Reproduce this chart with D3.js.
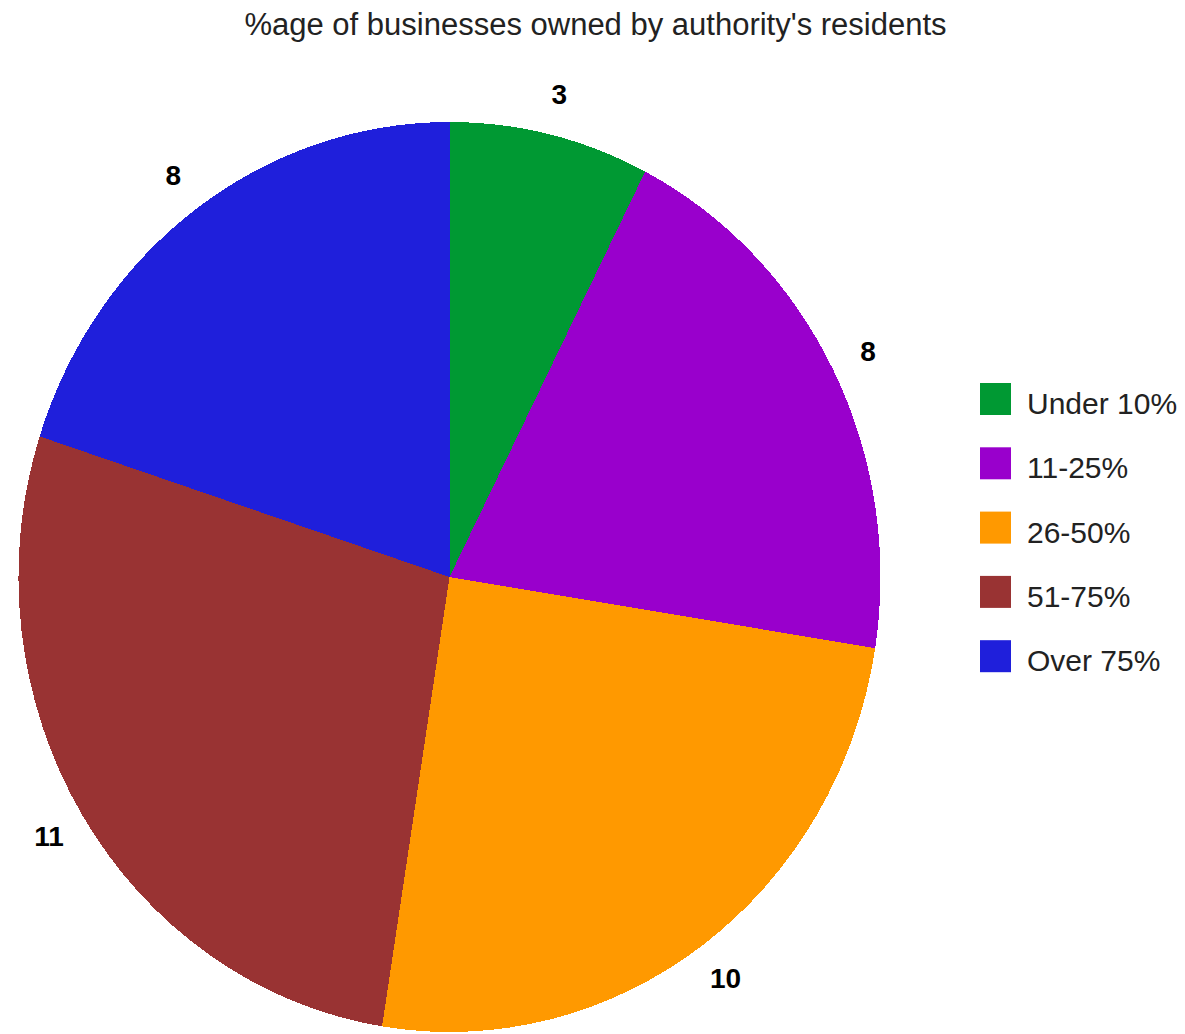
<!DOCTYPE html>
<html>
<head>
<meta charset="utf-8">
<script src="https://cdn.jsdelivr.net/npm/d3@7"></script>
<style>
  html, body { margin: 0; padding: 0; background: #fff; }
  svg { display: block; }
</style>
</head>
<body>
<svg id="chart" width="1185" height="1034"></svg>
<script>
// Ownership bands and number of businesses in each
const categories = ["Under 10%", "11-25%", "26-50%", "51-75%", "Over 75%"];
const values = [3, 8, 10, 11, 8];
const colors = ["#009933", "#9900cc", "#ff9900", "#993333", "#1f1fdb"];
const title = "%age of businesses owned by authority's residents";

const svg = d3.select("#chart");
const W = 1185;

// Pie geometry: slightly squashed horizontally
const cx = 449.5, cy = 577;
const ry = 455, rx = 431;

svg.append("text")
  .attr("x", 595.5)
  .attr("y", 35)
  .attr("text-anchor", "middle")
  .attr("font-family", "Liberation Sans, Arial, sans-serif")
  .attr("font-size", 31)
  .attr("fill", "#222")
  .text(title);

const pie = d3.pie().sort(null).value(d => d)(values);
const arc = d3.arc().innerRadius(0).outerRadius(ry);

const pieG = svg.append("g")
  .attr("transform", `translate(${cx},${cy}) scale(${rx / ry},1)`);

pieG.selectAll("path")
  .data(pie)
  .join("path")
  .attr("d", arc)
  .attr("fill", (d, i) => colors[i])
  .attr("shape-rendering", "crispEdges");

// Value labels just outside the rim, in the stretched coordinate frame
const labelFactor = 1.09;
svg.append("g").selectAll("text")
  .data(pie)
  .join("text")
  .attr("x", d => cx + rx * labelFactor * Math.sin((d.startAngle + d.endAngle) / 2))
  .attr("y", d => cy - ry * labelFactor * Math.cos((d.startAngle + d.endAngle) / 2))
  .attr("text-anchor", "middle")
  .attr("dominant-baseline", "central")
  .attr("font-family", "Liberation Sans, Arial, sans-serif")
  .attr("font-weight", "bold")
  .attr("font-size", 28)
  .attr("fill", "#000")
  .text(d => d.data);

// Legend
const legend = svg.append("g").attr("transform", "translate(980,383)");
const item = legend.selectAll("g")
  .data(categories)
  .join("g")
  .attr("transform", (d, i) => `translate(0,${i * 64.3})`);

item.append("rect")
  .attr("width", 31)
  .attr("height", 32)
  .attr("fill", (d, i) => colors[i]);

item.append("text")
  .attr("x", 47)
  .attr("y", 31)
  .attr("font-family", "Liberation Sans, Arial, sans-serif")
  .attr("font-size", 30)
  .attr("fill", "#222")
  .text(d => d);
</script>
</body>
</html>
